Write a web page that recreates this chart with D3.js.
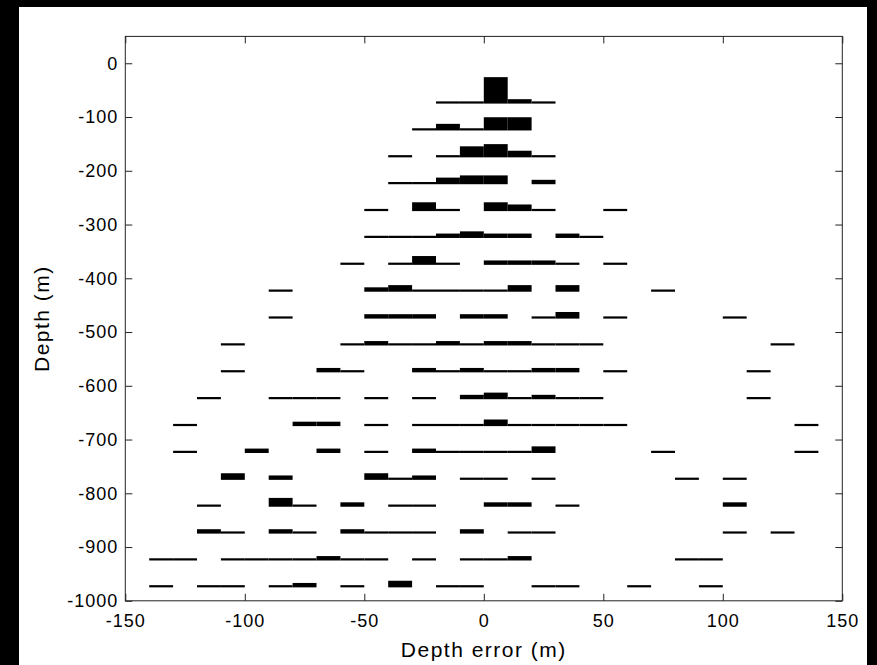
<!DOCTYPE html>
<html lang="en">
<head>
<meta charset="UTF-8">
<title>Depth error</title>
<style>
  body{ margin:0; background:#000; }
  svg{ display:block; }
  .axis text{ font-family:"Liberation Sans", Arial, sans-serif; font-size:18px; fill:#000; letter-spacing:1px; }
  .axis line, .axis path{ stroke:#222; }
  .label{ font-family:"Liberation Sans", Arial, sans-serif; font-size:21px; fill:#000; letter-spacing:1.5px; }
</style>
</head>
<body>
<script src="https://cdnjs.cloudflare.com/ajax/libs/d3/7.8.5/d3.min.js"></script>
<script>
'use strict';
// depth of each row (m) and the left edge of each 10 m error bin
const depths = [-75, -125, -175, -225, -275, -325, -375, -425, -475, -525,
                -575, -625, -675, -725, -775, -825, -875, -925, -975];
const binLeft = [-140, -130, -120, -110, -100, -90, -80, -70, -60, -50, -40, -30, -20, -10,
                 0, 10, 20, 30, 40, 50, 60, 70, 80, 90, 100, 110, 120, 130];
const binWidth = 10;

// counts per bin, one row per depth
const counts = [
  [0,0,0,0,0,0,0,0,0,0,0,0,1,1,12,2,1,0,0,0,0,0,0,0,0,0,0,0],
  [0,0,0,0,0,0,0,0,0,0,0,1,3,1,6,6,0,0,0,0,0,0,0,0,0,0,0,0],
  [0,0,0,0,0,0,0,0,0,0,1,0,1,5,6,3,1,0,0,0,0,0,0,0,0,0,0,0],
  [0,0,0,0,0,0,0,0,0,0,1,1,3,4,4,0,2,0,0,0,0,0,0,0,0,0,0,0],
  [0,0,0,0,0,0,0,0,0,1,0,4,1,0,4,3,1,0,0,1,0,0,0,0,0,0,0,0],
  [0,0,0,0,0,0,0,0,0,1,1,1,2,3,2,2,0,2,1,0,0,0,0,0,0,0,0,0],
  [0,0,0,0,0,0,0,0,1,0,1,4,1,0,2,2,2,1,0,1,0,0,0,0,0,0,0,0],
  [0,0,0,0,0,1,0,0,0,2,3,1,1,1,1,3,0,3,0,0,0,1,0,0,0,0,0,0],
  [0,0,0,0,0,1,0,0,0,2,2,2,0,2,2,0,1,3,0,1,0,0,0,0,1,0,0,0],
  [0,0,0,1,0,0,0,0,1,2,1,1,2,1,2,2,1,1,1,0,0,0,0,0,0,0,1,0],
  [0,0,0,1,0,0,0,2,1,0,0,2,1,2,1,1,2,2,0,1,0,0,0,0,0,1,0,0],
  [0,0,1,0,0,1,1,1,0,1,0,1,0,2,3,1,2,1,1,0,0,0,0,0,0,1,0,0],
  [0,1,0,0,0,0,2,2,0,1,0,1,1,1,3,1,1,1,1,1,0,0,0,0,0,0,0,1],
  [0,1,0,0,2,0,0,2,0,1,0,2,1,1,1,1,3,0,0,0,0,1,0,0,0,0,0,1],
  [0,0,0,3,0,2,0,0,0,3,1,2,0,1,1,0,1,0,0,0,0,0,1,0,1,0,0,0],
  [0,0,1,0,0,4,1,0,2,0,1,1,0,0,2,2,0,1,0,0,0,0,0,0,2,0,0,0],
  [0,0,2,1,0,2,1,0,2,1,1,1,0,2,0,1,1,0,0,0,0,0,0,0,1,0,1,0],
  [1,1,0,1,1,1,1,2,1,1,0,1,0,1,1,2,0,0,0,0,0,0,1,1,0,0,0,0],
  [1,0,1,1,0,1,2,0,1,0,3,0,1,1,0,0,1,1,0,0,1,0,0,1,0,0,0,0]
];
const unit = 4.1; // metres of bar height per count

const xTicks = [-150, -100, -50, 0, 50, 100, 150];
const yTicks = [0, -100, -200, -300, -400, -500, -600, -700, -800, -900, -1000];

const W = 877, H = 665;
const pLeft = 125.3, pRight = 842.3, pTop = 36.4, pBottom = 600.8;

const svg = d3.select("body").append("svg")
  .attr("width", W)
  .attr("height", H);

// white figure area on black
svg.append("rect")
  .attr("x", 19).attr("y", 7)
  .attr("width", 848).attr("height", H - 7)
  .attr("fill", "#fff");

const x = d3.scaleLinear().domain([-150, 150]).range([pLeft, pRight]);
const y = d3.scaleLinear().domain([-1000, 50]).range([pBottom, pTop]);

// bars
const cells = [];
depths.forEach((d, i) => {
  counts[i].forEach((c, j) => {
    if (c > 0) cells.push({depth: d, x0: binLeft[j], n: c});
  });
});

svg.append("g").selectAll("rect")
  .data(cells)
  .enter()
  .append("rect")
    .attr("x", d => x(d.x0))
    .attr("width", d => x(d.x0 + binWidth) - x(d.x0))
    .attr("y", d => y(d.depth + d.n * unit))
    .attr("height", d => y(d.depth) - y(d.depth + d.n * unit))
    .attr("fill", "#000");

// axes, ticks pointing inward, plain hyphen minus
const fmt = d => String(d);
svg.append("g").attr("class", "axis")
  .attr("transform", `translate(0,${pBottom})`)
  .call(d3.axisBottom(x).tickValues(xTicks).tickFormat(fmt).tickSizeInner(-7).tickSizeOuter(0).tickPadding(13));
svg.append("g").attr("class", "axis")
  .attr("transform", `translate(0,${pTop})`)
  .call(d3.axisTop(x).tickValues(xTicks).tickSizeInner(-7).tickSizeOuter(0).tickFormat(""));
svg.append("g").attr("class", "axis")
  .attr("transform", `translate(${pLeft},0)`)
  .call(d3.axisLeft(y).tickValues(yTicks).tickFormat(fmt).tickSizeInner(-7).tickSizeOuter(0).tickPadding(7));
svg.append("g").attr("class", "axis")
  .attr("transform", `translate(${pRight},0)`)
  .call(d3.axisRight(y).tickValues(yTicks).tickSizeInner(-7).tickSizeOuter(0).tickFormat(""));

svg.selectAll(".axis .domain").remove();
svg.append("rect")
  .attr("x", pLeft).attr("y", pTop)
  .attr("width", pRight - pLeft).attr("height", pBottom - pTop)
  .attr("fill", "none")
  .attr("stroke", "#222");

// axis titles
svg.append("text").attr("class", "label")
  .attr("x", (pLeft + pRight) / 2).attr("y", 657)
  .attr("text-anchor", "middle")
  .text("Depth error (m)");
svg.append("text").attr("class", "label")
  .attr("transform", `translate(49,${(pTop + pBottom) / 2}) rotate(-90)`)
  .attr("text-anchor", "middle")
  .text("Depth (m)");
</script>
</body>
</html>
